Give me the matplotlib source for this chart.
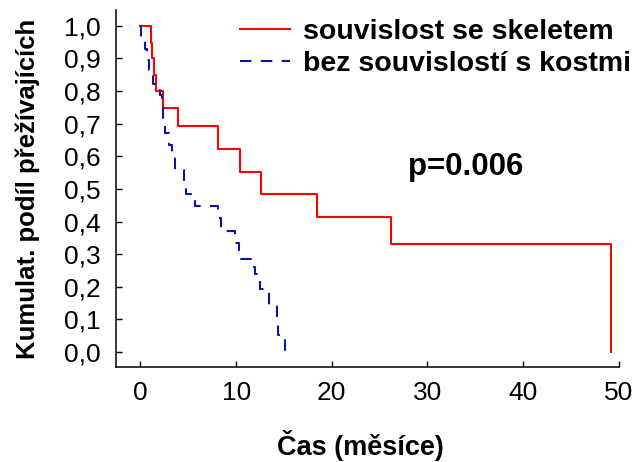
import numpy as np
import matplotlib
matplotlib.use("Agg")
from matplotlib import pyplot as plt

plt.rcParams['font.family'] = ['Liberation Sans', 'DejaVu Sans']

# Kaplan-Meier kroky: cas (mesice) a kumulativni podil prezivajicich
red_t = [0, 1.07, 1.21, 1.42, 1.63, 2.4, 3.9, 8.15, 10.45, 12.6, 18.45, 26.15, 49.2]
red_s = [1.0, 0.946, 0.90, 0.849, 0.80, 0.748, 0.692, 0.621, 0.553, 0.483, 0.414, 0.330, 0.0]

blue_t = [0, 0.05, 0.47, 0.72, 0.93, 1.3, 2.05, 2.3, 2.4, 2.6, 3.0, 3.3, 3.6, 4.5, 4.8,
          5.7, 8.15, 8.4, 9.85, 10.35, 11.6, 11.95, 12.5, 13.4, 14.3, 14.4, 15.1]
blue_s = [1.0, 0.96, 0.93, 0.895, 0.864, 0.823, 0.787, 0.75, 0.716, 0.672, 0.635, 0.598, 0.559,
          0.52, 0.484, 0.447, 0.41, 0.37, 0.333, 0.286, 0.26, 0.238, 0.194, 0.143, 0.10, 0.051, 0.0]

labels = ["souvislost se skeletem", "bez souvislostí s kostmi"]
xticks = [0, 10, 20, 30, 40, 50]
yticks = np.arange(0, 11) / 10
ytick_labels = [f"{v:.1f}".replace(".", ",") for v in yticks]

fig = plt.figure(figsize=(6.36, 4.62), dpi=100)
ax = fig.add_axes([0.1824, 0.2056, 0.9728 - 0.1824, 0.978 - 0.2056])

ax.plot(red_t, red_s, drawstyle="steps-post", color="#ff0000", lw=1.5, label=labels[0])
ax.plot(blue_t, blue_s, drawstyle="steps-post", color="#0a14a0", lw=1.5,
        linestyle=(0, (5.5, 4.5)), label=labels[1])

ax.set_xlim(-2.56, 50)
ax.set_ylim(-0.046, 1.048)
ax.set_xticks(xticks)
ax.set_yticks(yticks)
ax.set_yticklabels(ytick_labels)
ax.tick_params(direction="in", length=4, width=1, labelsize=19, colors="black")
ax.tick_params(axis="y", pad=11)
ax.tick_params(axis="x", pad=10)
for side in ["top", "right"]:
    ax.spines[side].set_visible(False)
for side in ["left", "bottom"]:
    ax.spines[side].set_linewidth(1.1)

ax.set_ylabel("Kumulat. podíl přežívajících", fontsize=18.5, fontweight="bold")
ax.yaxis.set_label_coords(-0.152, 0.5)
ax.set_xlabel("Čas (měsíce)", fontsize=19.5, fontweight="bold")
ax.xaxis.label.set_va("center")
ax.xaxis.set_label_coords(0.487, -0.221)

leg = fig.legend(loc="upper left", bbox_to_anchor=(240 / 636, 1 - 19 / 462), frameon=False,
                 handlelength=1.75, handletextpad=0.45, labelspacing=0.2,
                 borderpad=0, borderaxespad=0, prop={"weight": "bold", "size": 20.5})

fig.text(408 / 636, 1 - 167 / 462, "p=0.006", fontsize=22.5, fontweight="bold", va="center", ha="left")

fig.savefig("out.png", dpi=100)
